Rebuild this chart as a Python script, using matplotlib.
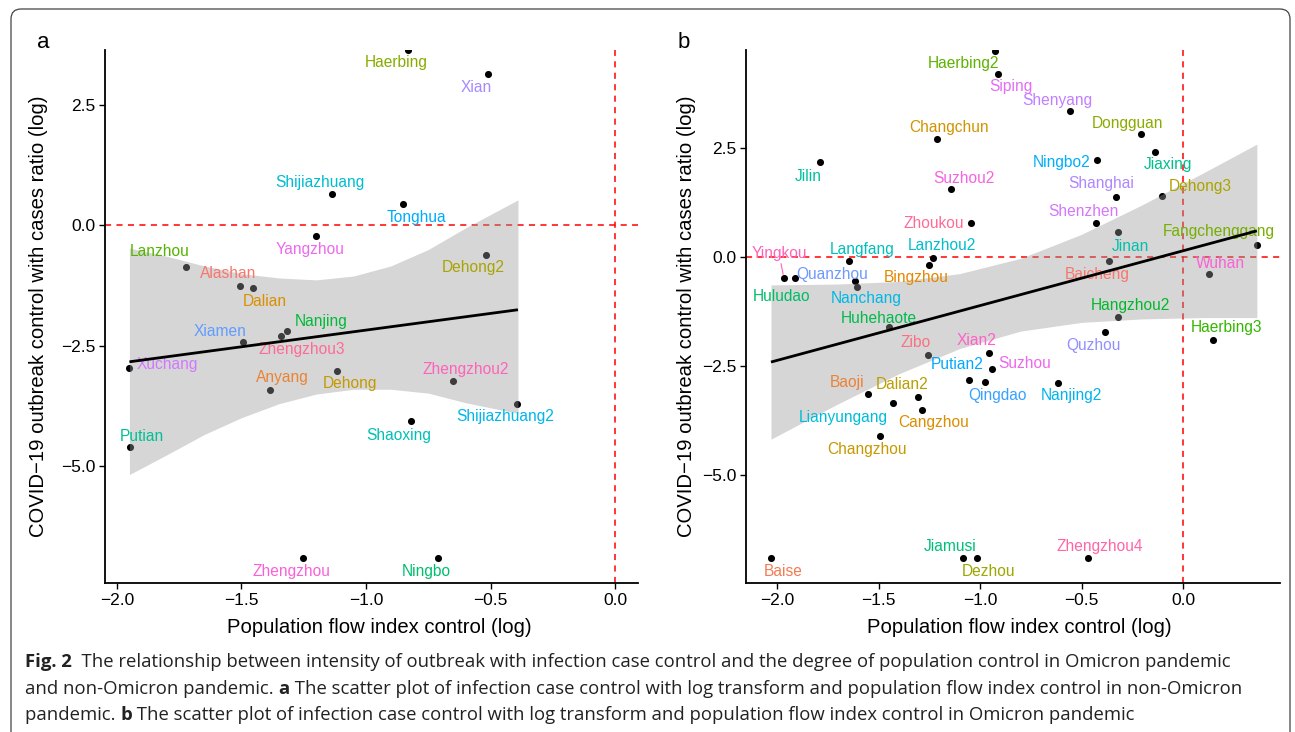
import numpy as np
import matplotlib
matplotlib.use('Agg')
import matplotlib.pyplot as plt
from matplotlib.patches import FancyBboxPatch
from matplotlib.transforms import IdentityTransform
from matplotlib.ticker import FuncFormatter

plt.rcParams['font.family'] = ['Liberation Sans', 'DejaVu Sans']

# данные панели a (не-Omicron)
a_names = ["Haerbing", "Xian", "Shijiazhuang", "Tonghua", "Yangzhou", "Dehong2", "Lanzhou",
           "Alashan", "Dalian", "Nanjing", "Zhengzhou3", "Xiamen", "Xuchang", "Anyang", "Putian",
           "Zhengzhou", "Dehong", "Zhengzhou2", "Shijiazhuang2", "Shaoxing", "Ningbo"]
a_x = [-0.831, -0.51, -1.136, -0.851, -1.20, -0.518, -1.723, -1.506, -1.454, -1.317, -1.341,
       -1.494, -1.95, -1.386, -1.948, -1.253, -1.116, -0.65, -0.393, -0.819, -0.711]
a_y = [3.64, 3.14, 0.65, 0.45, -0.22, -0.61, -0.86, -1.25, -1.30, -2.19, -2.29, -2.42, -2.96,
       -3.41, -4.60, -6.90, -3.02, -3.23, -3.70, -4.06, -6.90]

# линия регрессии и 95% интервал панели a
a_fit_x = [-1.95, -0.39]
a_fit_y = [-2.83, -1.75]
a_band_x = [-1.95, -1.8, -1.65, -1.5, -1.35, -1.2, -1.05, -0.9, -0.75, -0.6, -0.39]
a_band_hi = [-0.47, -0.64, -0.84, -1.00, -1.09, -1.13, -1.05, -0.84, -0.50, -0.05, 0.53]
a_band_lo = [-5.17, -4.76, -4.34, -3.99, -3.70, -3.50, -3.40, -3.40, -3.48, -3.68, -3.90]

# данные панели b (Omicron)
b_names = ["Haerbing2", "Siping", "Shenyang", "Dongguan", "Jiaxing", "Ningbo2", "Shanghai",
           "Dehong3", "Shenzhen", "Zhoukou", "Jinan", "Baicheng", "Fangchenggang", "Wuhan",
           "Hangzhou2", "Quzhou", "Haerbing3", "Xian2", "Suzhou", "Putian2", "Qingdao", "Nanjing2",
           "Jilin", "Changchun", "Suzhou2", "Lanzhou2", "Bingzhou", "Langfang", "Yingkou",
           "Huludao", "Quanzhou", "Nanchang", "Huhehaote", "Zibo", "Baoji", "Lianyungang",
           "Dalian2", "Cangzhou", "Changzhou", "Baise", "Jiamusi", "Dezhou", "Zhengzhou4"]
b_x = [-0.926, -0.911, -0.557, -0.207, -0.138, -0.424, -0.33, -0.103, -0.429, -1.044, -0.32,
       -0.365, 0.364, 0.128, -0.32, -0.384, 0.148, -0.956, -0.941, -1.054, -0.975, -0.616,
       -1.788, -1.212, -1.143, -1.232, -1.251, -1.645, -1.966, -1.911, -1.616, -1.606, -1.448,
       -1.256, -1.552, -1.429, -1.305, -1.286, -1.493, -2.03, -1.084, -1.015, -0.468]
b_y = [4.72, 4.20, 3.35, 2.82, 2.41, 2.22, 1.38, 1.40, 0.78, 0.78, 0.57, -0.09, 0.28, -0.39,
       -1.38, -1.72, -1.90, -2.20, -2.57, -2.82, -2.87, -2.89, 2.18, 2.71, 1.56, -0.02, -0.18,
       -0.09, -0.49, -0.49, -0.55, -0.69, -1.61, -2.25, -3.14, -3.35, -3.21, -3.51, -4.11,
       -6.90, -6.90, -6.90, -6.90]

# линия регрессии и 95% интервал панели b
b_fit_x = [-2.03, 0.364]
b_fit_y = [-2.41, 0.60]
b_band_x = [-2.03, -1.7, -1.4, -1.1, -0.8, -0.5, -0.2, 0.1, 0.364]
b_band_hi = [-0.64, -0.62, -0.56, -0.38, -0.03, 0.52, 1.20, 1.93, 2.59]
b_band_lo = [-4.18, -3.37, -2.68, -2.10, -1.70, -1.50, -1.42, -1.39, -1.39]

# смещения подписей (пиксели)
a_off = {"Haerbing": (-12, -13), "Xian": (-12, -13), "Shijiazhuang": (-12, 12),
         "Tonghua": (13, -14), "Yangzhou": (-6, -13), "Dehong2": (-13, -13), "Lanzhou": (-26, 15),
         "Alashan": (-12, 12), "Dalian": (12, -13), "Nanjing": (34, 9), "Zhengzhou3": (21, -14),
         "Xiamen": (-23, 11), "Xuchang": (38, 4), "Anyang": (12, 12), "Putian": (12, 11),
         "Zhengzhou": (-12, -14), "Dehong": (13, -13), "Zhengzhou2": (13, 12),
         "Shijiazhuang2": (-12, -13), "Shaoxing": (-12, -14), "Ningbo": (-12, -14)}
b_off = {"Haerbing2": (-32, -12), "Siping": (13, -13), "Shenyang": (-13, 11),
         "Dongguan": (-13, 11), "Jiaxing": (13, -13), "Ningbo2": (-35, -2), "Shanghai": (-15, 13),
         "Dehong3": (38, 9), "Shenzhen": (-12, 12), "Zhoukou": (-37, 0), "Jinan": (12, -14),
         "Fangchenggang": (-38, 13), "Baicheng": (-12, -14), "Wuhan": (12, 11),
         "Hangzhou2": (12, 12), "Quzhou": (-12, -14), "Haerbing3": (13, 12), "Xian2": (-12, 12),
         "Suzhou": (33, 6), "Putian2": (-12, 15), "Qingdao": (12, -13), "Nanjing2": (13, -13),
         "Jilin": (-12, -14), "Changchun": (12, 11), "Suzhou2": (13, 11), "Lanzhou2": (9, 12),
         "Bingzhou": (-13, -13), "Langfang": (13, 11), "Yingkou": (-5, 25), "Huludao": (-14, -18),
         "Quanzhou": (-23, 6), "Nanchang": (9, -11), "Huhehaote": (-10, 9), "Zibo": (-12, 13),
         "Baoji": (-21, 11), "Dalian2": (-16, 12), "Lianyungang": (-50, -14),
         "Cangzhou": (12, -13), "Changzhou": (-13, -13), "Baise": (12, -14),
         "Jiamusi": (-13, 11), "Dezhou": (12, -14), "Zhengzhou4": (12, 11)}


def hue_colors(n):
    # палитра ggplot: hcl(h, c=100, l=65)
    h = np.deg2rad(15 + 360 * np.arange(n) / n)
    L, C = 65.0, 100.0
    U, V = C * np.cos(h), C * np.sin(h)
    Xn, Yn, Zn = 95.047, 100.0, 108.883
    Y = Yn * ((L + 16) / 116) ** 3
    un = 4 * Xn / (Xn + 15 * Yn + 3 * Zn)
    vn = 9 * Yn / (Xn + 15 * Yn + 3 * Zn)
    u = U / (13 * L) + un
    v = V / (13 * L) + vn
    X = 9 * Y * u / (4 * v)
    Z = -X / 3 - 5 * Y + 3 * Y / v
    X, Y, Z = X / 100, Y / 100, Z / 100
    r = 3.240479 * X - 1.537150 * Y - 0.498535 * Z
    g = -0.969256 * X + 1.875992 * Y + 0.041556 * Z
    b = 0.055648 * X - 0.204043 * Y + 1.057311 * Z
    out = []
    for c in zip(r, g, b):
        c = np.array(c)
        c = np.where(c > 0.00304, 1.055 * np.abs(c) ** (1 / 2.4) - 0.055, 12.92 * c)
        out.append(tuple(np.clip(c, 0, 1)))
    return out


def draw_panel(ax, names, xs, ys, offsets, fit_x, fit_y, band_x, band_lo, band_hi, xlim, ylim):
    order = sorted(names)
    cols = hue_colors(len(order))
    cmap = {nm: cols[i] for i, nm in enumerate(order)}

    ax.axhline(0, color='red', lw=1.1, ls=(0, (4, 3.5)), zorder=1)
    ax.axvline(0, color='red', lw=1.1, ls=(0, (4, 3.5)), zorder=1)
    ax.scatter(xs, ys, s=26, color='black', zorder=2, linewidths=0)

    # доверительная полоса поверх точек (как в ggplot)
    ax.fill_between(band_x, band_lo, band_hi, color='#999999', alpha=0.4, lw=0, zorder=3)

    for nm, x, y in zip(names, xs, ys):
        dx, dy = offsets[nm]
        kw = {}
        if nm == "Yingkou":
            kw['arrowprops'] = dict(arrowstyle='-', color=cmap[nm], lw=0.8, shrinkA=0, shrinkB=3)
        ax.annotate(nm, (x, y), xytext=(dx, dy), textcoords='offset pixels', ha='center',
                    va='center', fontsize=11.2, color=cmap[nm], zorder=4, **kw)

    ax.plot(fit_x, fit_y, color='black', lw=2.0, zorder=5, solid_capstyle='butt')

    ax.set_xlim(xlim)
    ax.set_ylim(ylim)
    ax.set_xticks([-2.0, -1.5, -1.0, -0.5, 0.0])
    ax.set_yticks([-5.0, -2.5, 0.0, 2.5])
    fmt = FuncFormatter(lambda v, p: ('%.1f' % v).replace('-', '\u2212'))
    ax.xaxis.set_major_formatter(fmt)
    ax.yaxis.set_major_formatter(fmt)
    for sp in ['top', 'right']:
        ax.spines[sp].set_visible(False)
    for sp in ['left', 'bottom']:
        ax.spines[sp].set_linewidth(1.3)
    ax.tick_params(length=4, width=1.0, labelsize=12.5, colors='black', pad=3)
    ax.set_xlabel('Population flow index control (log)', fontsize=14.6)
    ax.set_ylabel('COVID\u221219 outbreak control with cases ratio (log)', fontsize=14.6)


W, H = 1295, 732
fig = plt.figure(figsize=(W / 100, H / 100), dpi=100)

ax1 = fig.add_axes([105 / W, 1 - 583 / H, 533 / W, 533 / H])
ax2 = fig.add_axes([746 / W, 1 - 583 / H, 534 / W, 533 / H])

draw_panel(ax1, a_names, a_x, a_y, a_off, a_fit_x, a_fit_y, a_band_x, a_band_lo, a_band_hi,
           (-2.048, 0.092), (-7.42, 3.64))
draw_panel(ax2, b_names, b_x, b_y, b_off, b_fit_x, b_fit_y, b_band_x, b_band_lo, b_band_hi,
           (-2.153, 0.478), (-7.48, 4.75))

ax1.xaxis.set_label_coords(0.514, -0.084)
ax2.xaxis.set_label_coords(0.511, -0.084)
ax1.yaxis.set_label_coords(-0.125, 0.5)
ax2.yaxis.set_label_coords(-0.112, 0.5)
for a in (ax1, ax2):
    a.xaxis.label.set_va('center')
    a.yaxis.label.set_va('center')

fig.text(43 / W, 1 - 42 / H, 'a', fontsize=16, ha='center', va='center')
fig.text(684 / W, 1 - 42 / H, 'b', fontsize=16, ha='center', va='center')

# рамка со скруглёнными углами
frame = FancyBboxPatch((11, -20), 1279, H - 9 + 20, boxstyle='round,pad=0,rounding_size=10',
                       transform=IdentityTransform(), fc='none', ec='#444444', lw=0.9)
fig.patches.append(frame)

# подпись к рисунку
cap_lines = [
    [("Fig. 2", 'bold'), ("  The relationship between intensity of outbreak with infection case control and the degree of population control in Omicron pandemic", 'normal')],
    [("and non-Omicron pandemic. ", 'normal'), ("a", 'bold'), (" The scatter plot of infection case control with log transform and population flow index control in non-Omicron", 'normal')],
    [("pandemic. ", 'normal'), ("b", 'bold'), (" The scatter plot of infection case control with log transform and population flow index control in Omicron pandemic", 'normal')],
]
cap_y = [662, 689, 715]
renderer = fig.canvas.get_renderer()
for line, yy in zip(cap_lines, cap_y):
    x = 25
    for txt, wt in line:
        t = fig.text(x / W, 1 - yy / H, txt, fontsize=13.3, fontweight=wt, family='Open Sans',
                     ha='left', va='center', color='#222222')
        bb = t.get_window_extent(renderer)
        x = bb.x1

fig.savefig('out.png', dpi=100)
